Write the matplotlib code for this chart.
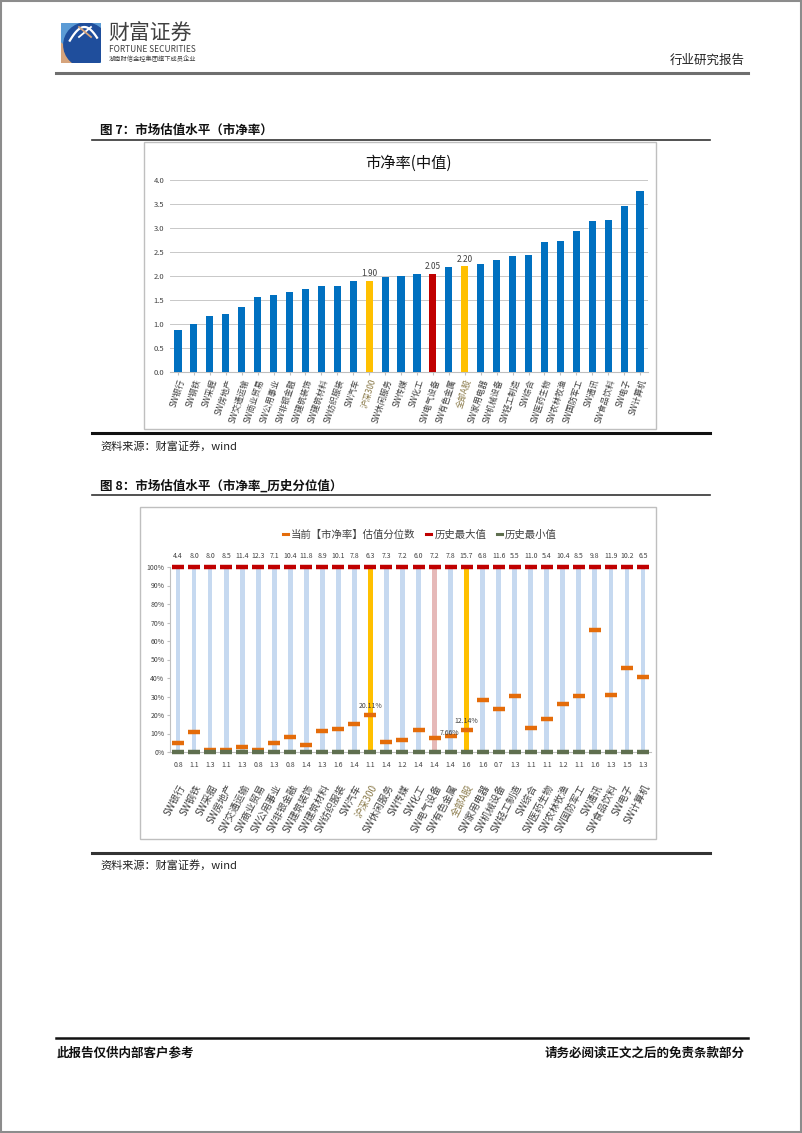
import numpy as np
import matplotlib
matplotlib.use("Agg")
import matplotlib.pyplot as plt
from matplotlib.lines import Line2D
from matplotlib.patches import Rectangle, Circle, Polygon
import matplotlib.transforms as mtransforms

plt.rcParams['font.family'] = ['Noto Sans CJK SC', 'DejaVu Sans']

W, H = 802, 1133

# categories shared by both charts
cats = ["SW银行", "SW钢铁", "SW采掘", "SW房地产", "SW交通运输", "SW商业贸易", "SW公用事业",
        "SW非银金融", "SW建筑装饰", "SW建筑材料", "SW纺织服装", "SW汽车", "沪深300", "SW休闲服务",
        "SW传媒", "SW化工", "SW电气设备", "SW有色金属", "全部A股", "SW家用电器", "SW机械设备",
        "SW轻工制造", "SW综合", "SW医药生物", "SW农林牧渔", "SW国防军工", "SW通讯", "SW食品饮料",
        "SW电子", "SW计算机"]

# chart 7: median PB
pb_median = [0.88, 0.99, 1.17, 1.21, 1.35, 1.57, 1.60, 1.66, 1.73, 1.80, 1.80, 1.89, 1.90, 1.97,
             2.01, 2.05, 2.05, 2.19, 2.20, 2.25, 2.33, 2.42, 2.44, 2.71, 2.72, 2.94, 3.15, 3.16,
             3.45, 3.78]

# chart 8: historical percentile of current PB
pct_now = [0.050, 0.110, 0.010, 0.010, 0.025, 0.013, 0.047, 0.082, 0.038, 0.116, 0.123, 0.150,
           0.2011, 0.055, 0.065, 0.120, 0.0766, 0.085, 0.1214, 0.282, 0.230, 0.302, 0.132,
           0.181, 0.258, 0.302, 0.659, 0.306, 0.452, 0.403]
pct_max = [1.0] * 30
pct_min = [0.0] * 30
hist_max = ["4.4", "8.0", "8.0", "8.5", "11.4", "12.3", "7.1", "10.4", "11.8", "8.9", "10.1", "7.8",
            "6.3", "7.3", "7.2", "6.0", "7.2", "7.8", "15.7", "6.8", "11.6", "5.5", "11.0", "5.4",
            "10.4", "8.5", "9.8", "11.9", "10.2", "6.5"]
hist_min = ["0.8", "1.1", "1.3", "1.1", "1.3", "0.8", "1.3", "0.8", "1.4", "1.3", "1.6", "1.4",
            "1.1", "1.4", "1.2", "1.4", "1.4", "1.4", "1.6", "1.6", "0.7", "1.3", "1.1", "1.1",
            "1.2", "1.1", "1.6", "1.3", "1.5", "1.3"]

gold_cats = ["沪深300", "全部A股"]
red_cat = "SW电气设备"
labelled_pb = ["沪深300", "SW电气设备", "全部A股"]


def fx(x):
    return x / W


def fy(y):
    return 1 - y / H


def hline(fig, x0, x1, y, lw, color):
    fig.add_artist(Line2D([fx(x0), fx(x1)], [fy(y), fy(y)], lw=lw, color=color,
                          transform=fig.transFigure))


def box(fig, x0, y0, x1, y1):
    fig.add_artist(Rectangle((fx(x0), fy(y1)), fx(x1) - fx(x0), fy(y0) - fy(y1),
                             transform=fig.transFigure, fill=False, ec="#bfbfbf", lw=1.0))


fig = plt.figure(figsize=(W / 100, H / 100), dpi=100)

# page frame
fig.add_artist(Rectangle((0.001, 0.001), 0.998, 0.998, transform=fig.transFigure,
                         fill=False, ec="#8c8c8c", lw=1.5))

# ---- header ----
logo = fig.add_axes([fx(61), fy(63), fx(40), 40 / H])
logo.set_xlim(0, 1)
logo.set_ylim(0, 1)
logo.axis("off")
logo.add_patch(Rectangle((0, 0), 1, 1, color="#5b9bd5"))
logo.add_patch(Polygon([[0, 0], [0.45, 0], [0, 0.5]], color="#d6a47c"))
circ = Circle((0.62, 0.45), 0.55, color="#1f4e9c")
logo.add_patch(circ)
circ.set_clip_path(Rectangle((0, 0), 1, 1, transform=logo.transData))
t = np.linspace(0.15, 1.0, 50)
logo.plot(0.1 + 0.8 * t, 0.35 + 0.55 * np.sin(t * 2.6), color="white", lw=1.6)
logo.plot([0.45, 0.75], [0.65, 0.9], color="white", lw=1.3)
logo.plot([0.45, 0.75], [0.9, 0.65], color="#d6a47c", lw=1.3)

fig.text(fx(108), fy(34), "财富证券", fontsize=15, color="#404040", va="center", ha="left")
fig.text(fx(109), fy(50), "FORTUNE SECURITIES", fontsize=6, color="#404040", va="center", ha="left")
fig.text(fx(109), fy(59), "湖南财信金控集团旗下成员企业", fontsize=4.5, color="#404040",
         va="center", ha="left")
fig.text(fx(745), fy(60), "行业研究报告", fontsize=9, color="#222222", va="center", ha="right")
hline(fig, 56, 748, 73, 2.2, "#6f6f6f")

# ---- figure 7 ----
fig.text(fx(100), fy(130), "图 7：市场估值水平（市净率）", fontsize=9, fontweight="bold",
         va="center", ha="left", color="#111111")
hline(fig, 92, 710, 140, 1.2, "#333333")
box(fig, 144, 142, 656, 429)
hline(fig, 92, 710, 433, 2.2, "#111111")
fig.text(fx(100), fy(446), "资料来源：财富证券，wind", fontsize=8, va="center", ha="left",
         color="#222222", style="italic")

ax1 = fig.add_axes([fx(170), fy(372), fx(648) - fx(170), (372 - 180) / H])
x = np.arange(len(cats))
colors1 = []
for c in cats:
    if c in gold_cats:
        colors1.append("#ffc000")
    elif c == red_cat:
        colors1.append("#c00000")
    else:
        colors1.append("#0070c0")
ax1.bar(x, pb_median, width=0.45, color=colors1, zorder=3)
for i, c in enumerate(cats):
    if c in labelled_pb:
        ax1.text(x[i], pb_median[i] + 0.06, "%.2f" % pb_median[i], ha="center", va="bottom",
                 fontsize=6, color="#404040")
ax1.set_xlim(-0.5, len(cats) - 0.5)
ax1.set_ylim(0, 4.0)
ax1.set_yticks(np.arange(0, 4.01, 0.5))
ax1.set_yticklabels(["%.1f" % v for v in np.arange(0, 4.01, 0.5)], fontsize=5.5, color="#404040")
ax1.yaxis.grid(True, color="#c8c8c8", lw=0.7, zorder=0)
ax1.set_xticks(x)
ax1.set_xticklabels(cats, rotation=72, ha="right", rotation_mode="anchor", fontsize=6,
                    color="#404040")
ax1.tick_params(axis="x", length=2, color="#bfbfbf", pad=2)
ax1.tick_params(axis="y", length=0, pad=4)
for s in ["top", "right", "left"]:
    ax1.spines[s].set_visible(False)
ax1.spines["bottom"].set_color("#bfbfbf")
ax1.set_title("市净率(中值)", fontsize=11, color="#111111", pad=9)

# ---- figure 8 ----
fig.text(fx(100), fy(486), "图 8：市场估值水平（市净率_历史分位值）", fontsize=9,
         fontweight="bold", va="center", ha="left", color="#111111")
hline(fig, 92, 710, 495, 1.2, "#333333")
box(fig, 140, 507, 656, 839)
hline(fig, 92, 710, 853, 2.2, "#333333")
fig.text(fx(100), fy(865), "资料来源：财富证券，wind", fontsize=8, va="center", ha="left",
         color="#222222", style="italic")

ax2 = fig.add_axes([fx(170), fy(752), fx(651) - fx(170), (752 - 567) / H])
colors2 = []
for c in cats:
    if c in gold_cats:
        colors2.append("#ffc000")
    elif c == red_cat:
        colors2.append("#e6b9b8")
    else:
        colors2.append("#c6d9f0")
ax2.bar(x, pct_max, width=0.3, color=colors2, zorder=2)
ax2.plot(x, pct_now, ls="none", marker="_", ms=8, mew=3.2, color="#e46c0a", zorder=4,
         label="当前【市净率】估值分位数", clip_on=False)
ax2.plot(x, pct_max, ls="none", marker="_", ms=8, mew=3.2, color="#c00000", zorder=4,
         label="历史最大值", clip_on=False)
ax2.plot(x, pct_min, ls="none", marker="_", ms=8, mew=3.2, color="#5f6f4f", zorder=4,
         label="历史最小值", clip_on=False)

trans = mtransforms.blended_transform_factory(ax2.transData, ax2.transAxes)
for i in range(len(cats)):
    ax2.text(x[i], 1.06, hist_max[i], transform=trans, ha="center", va="center", fontsize=5,
             color="#404040")
    ax2.text(x[i], -0.07, hist_min[i], transform=trans, ha="center", va="center", fontsize=5,
             color="#404040")

for i, c in enumerate(cats):
    if c in gold_cats:
        ax2.text(x[i], pct_now[i] + 0.025, "%.2f%%" % (pct_now[i] * 100), ha="center",
                 va="bottom", fontsize=5, color="#404040", zorder=5)
    elif c == red_cat:
        ax2.text(x[i] + 0.3, pct_now[i] + 0.005, "%.2f%%" % (pct_now[i] * 100), ha="left",
                 va="bottom", fontsize=5, color="#404040", zorder=5)

ax2.set_xlim(-0.5, len(cats) - 0.5)
ax2.set_ylim(0, 1.0)
ax2.set_yticks(np.arange(0, 1.01, 0.1))
ax2.set_yticklabels(["%d%%" % round(v * 100) for v in np.arange(0, 1.01, 0.1)], fontsize=5,
                    color="#404040")
ax2.tick_params(axis="y", length=2, color="#bfbfbf", pad=2)
ax2.set_xticks(x)
ax2.set_xticklabels(cats, rotation=62, ha="right", rotation_mode="anchor", fontsize=7,
                    color="#404040")
ax2.tick_params(axis="x", length=0, pad=22)
for s in ["top", "right"]:
    ax2.spines[s].set_visible(False)
ax2.spines["left"].set_color("#bfbfbf")
ax2.spines["bottom"].set_color("#bfbfbf")
for lab in ax2.get_xticklabels() + ax1.get_xticklabels():
    if lab.get_text() in gold_cats:
        lab.set_color("#8a7a4a")

handles = [Line2D([0], [0], color="#e46c0a", lw=2.2),
           Line2D([0], [0], color="#c00000", lw=2.2),
           Line2D([0], [0], color="#5f6f4f", lw=2.2)]
fig.legend(handles, ["当前【市净率】估值分位数", "历史最大值", "历史最小值"], ncol=3,
           loc="center", bbox_to_anchor=(fx(420), fy(535)), frameon=False, fontsize=7.5,
           handlelength=0.5, handletextpad=0.3, columnspacing=1.0, labelcolor="#404040")

# ---- footer ----
hline(fig, 56, 748, 1038, 1.8, "#111111")
fig.text(fx(57), fy(1053), "此报告仅供内部客户参考", fontsize=9, fontweight="bold",
         va="center", ha="left", color="#111111")
fig.text(fx(745), fy(1053), "请务必阅读正文之后的免责条款部分", fontsize=9, fontweight="bold",
         va="center", ha="right", color="#111111")

fig.savefig("out.png", dpi=100)
